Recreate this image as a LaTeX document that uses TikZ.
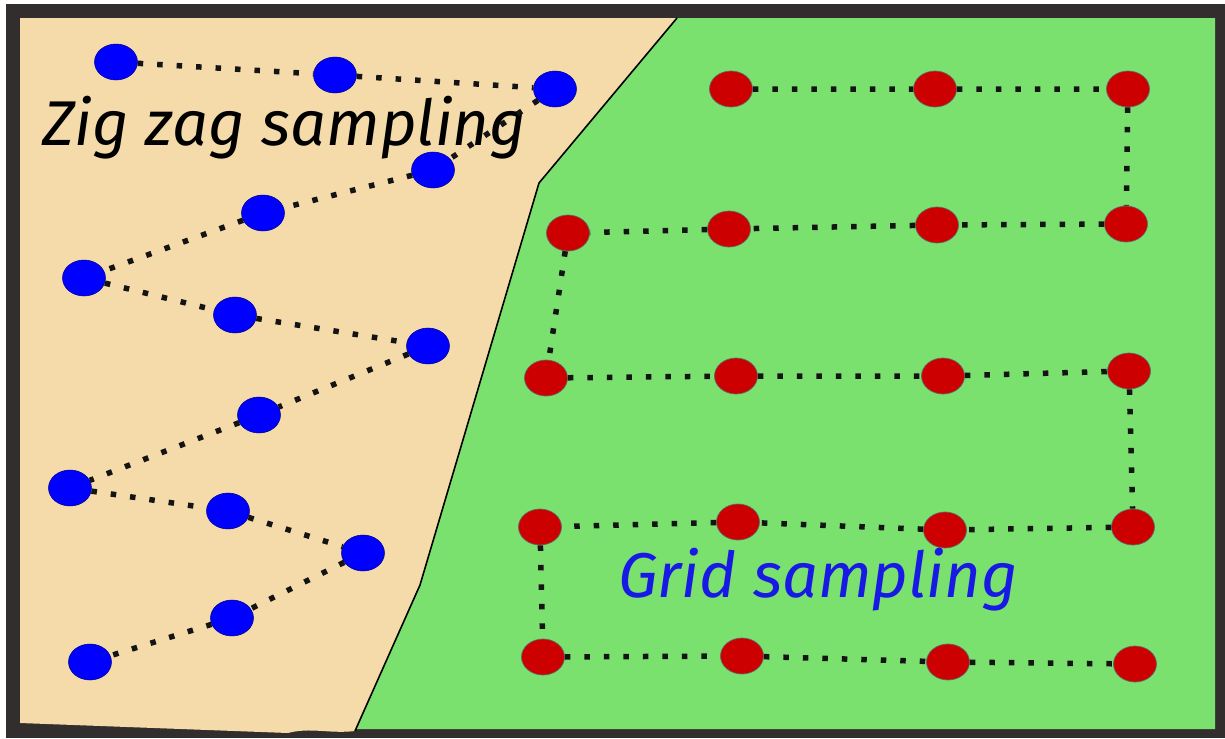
\documentclass[tikz,border=0pt]{standalone}
\usepackage{fontspec}
\usepackage{xcolor}
\usetikzlibrary{shapes.geometric}

\newfontfamily\handfont{Fira Sans}
\definecolor{framegray}{RGB}{51,46,46}
\definecolor{sand}{RGB}{245,219,170}
\definecolor{grass}{RGB}{122,224,110}
\definecolor{dotred}{RGB}{204,0,0}
\definecolor{textblue}{RGB}{25,25,230}

\begin{document}
\begin{tikzpicture}[
  x=0.02cm,
  y=-0.02cm,
  zigdot/.style={ellipse,draw=blue!55!black,line width=.3pt,fill=blue,
    minimum width=.86cm,minimum height=.72cm,inner sep=0pt},
  griddot/.style={ellipse,draw=black!60,line width=.4pt,fill=dotred,
    minimum width=.86cm,minimum height=.72cm,inner sep=0pt},
  link/.style={line width=.11cm,dash pattern=on .11cm off .28cm,
    draw=black!92},
  label/.style={font=\handfont\itshape\fontsize{36}{40}\selectfont,inner sep=0pt}
]
\useasboundingbox (0,0) rectangle (1225,738);

% frame and the two fields
\fill[framegray] (6,4) rectangle (1225,738);
\fill[grass] (677,18) -- (1215,18) -- (1215,729) -- (355,729)
  -- (420,585) -- (539,183) -- cycle;
\fill[sand] (20,18) -- (677,18) -- (539,183) -- (420,585) -- (355,731)
  .. controls (330,734) and (310,727) .. (288,733) -- (20,723) -- cycle;
\draw[line width=.9pt,black] (677,18) -- (539,183) -- (420,585) -- (355,731);

% zig zag points
\node[zigdot] (z1) at (116,62) {};
\node[zigdot] (z2) at (335,75) {};
\node[zigdot] (z3) at (555,89) {};
\node[zigdot] (z4) at (433,170) {};
\node[zigdot] (z5) at (263,213) {};
\node[zigdot] (z6) at (84,278) {};
\node[zigdot] (z7) at (235,315) {};
\node[zigdot] (z8) at (428,346) {};
\node[zigdot] (z9) at (259,415) {};
\node[zigdot] (z10) at (70,488) {};
\node[zigdot] (z11) at (228,511) {};
\node[zigdot] (z12) at (363,553) {};
\node[zigdot] (z13) at (232,618) {};
\node[zigdot] (z14) at (90,662) {};

% grid points
\node[griddot] (g11) at (731,89) {};
\node[griddot] (g12) at (935,89) {};
\node[griddot] (g13) at (1128,89) {};
\node[griddot] (g21) at (568,233) {};
\node[griddot] (g22) at (729,229) {};
\node[griddot] (g23) at (937,225) {};
\node[griddot] (g24) at (1126,224) {};
\node[griddot] (g31) at (546,378) {};
\node[griddot] (g32) at (736,376) {};
\node[griddot] (g33) at (943,376) {};
\node[griddot] (g34) at (1129,371) {};
\node[griddot] (g41) at (540,527) {};
\node[griddot] (g42) at (738,522) {};
\node[griddot] (g43) at (945,530) {};
\node[griddot] (g44) at (1133,527) {};
\node[griddot] (g51) at (543,657) {};
\node[griddot] (g52) at (742,656) {};
\node[griddot] (g53) at (948,662) {};
\node[griddot] (g54) at (1135,664) {};

\node[label,anchor=base west] (zigzag) at (42,145) {Zig zag sampling};
\node[label,anchor=base west,text=textblue] (gridname) at (618,597) {Grid sampling};

% paths
\draw[link] (z1) -- (z2) -- (z3) -- (z4) -- (z5) -- (z6) -- (z7)
  -- (z8) -- (z9) -- (z10) -- (z11) -- (z12) -- (z13) -- (z14);
\draw[link] (g11) -- (g12) -- (g13) -- (g24) -- (g23) -- (g22) -- (g21)
  -- (g31) -- (g32) -- (g33) -- (g34) -- (g44) -- (g43) -- (g42) -- (g41)
  -- (g51) -- (g52) -- (g53) -- (g54);

\end{tikzpicture}
\end{document}
